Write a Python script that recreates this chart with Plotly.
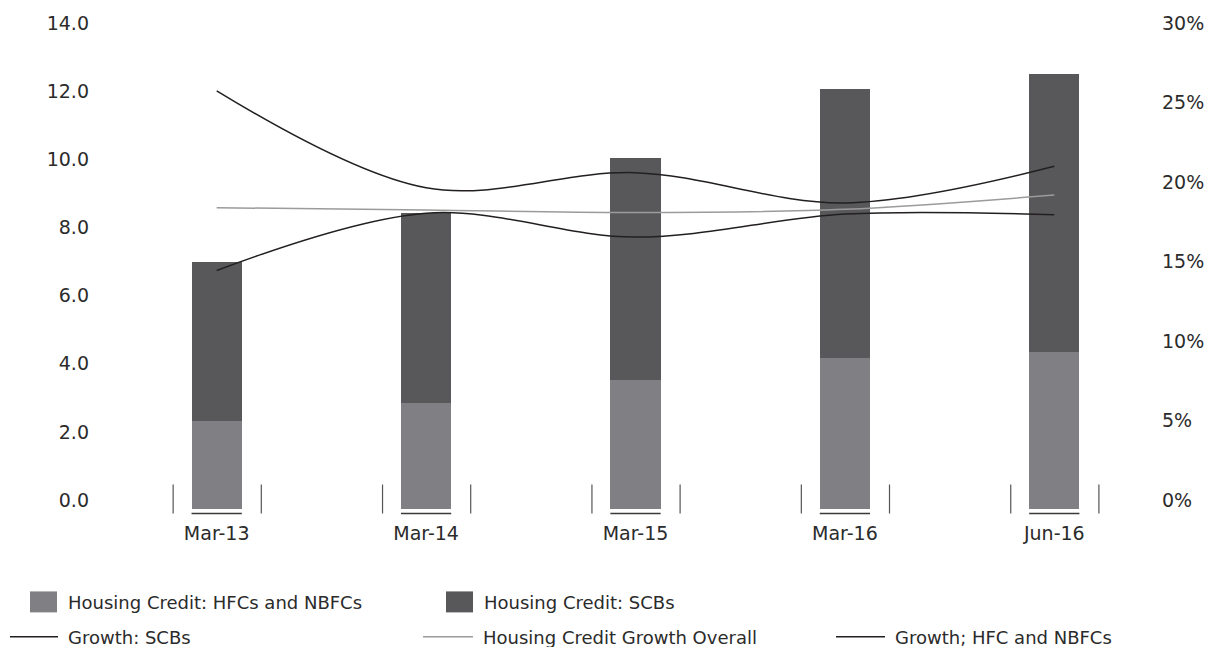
import plotly.graph_objects as go

# Housing credit outstanding (stacked bars, left axis) and growth rates (lines, right axis)
periods = ["Mar-13", "Mar-14", "Mar-15", "Mar-16", "Jun-16"]
credit_hfc_nbfc = [2.57, 3.12, 3.80, 4.44, 4.62]
credit_scb = [4.67, 5.57, 6.51, 7.89, 8.15]
growth_scb = [15.0, 18.6, 17.1, 18.55, 18.5]
growth_overall = [18.95, 18.8, 18.65, 18.85, 19.75]
growth_hfc_nbfc = [26.3, 20.2, 21.15, 19.25, 21.55]

left_ticks = [0, 2, 4, 6, 8, 10, 12, 14]
right_ticks = [0, 5, 10, 15, 20, 25, 30]
right_labels = [f"{v}%" for v in right_ticks]

W, H = 1205, 647
ML, MR, MT, MB = 112, 46, 32, 137.5
PW, PH = W - ML - MR, H - MT - MB

FONT = "DejaVu Sans"
TXT = "#2b2b2b"
C_HFC = "#808084"
C_SCB = "#58585a"
C_LINE = "#231f20"
C_OVERALL = "#9b9b9b"


def px(xp):
    return (xp - ML) / PW


def py(yp):
    return (H - MB - yp) / PH


fig = go.Figure()
fig.add_bar(x=periods, y=credit_hfc_nbfc, name="Housing Credit: HFCs and NBFCs",
            marker=dict(color=C_HFC, line_width=0), width=0.24)
fig.add_bar(x=periods, y=credit_scb, name="Housing Credit: SCBs",
            marker=dict(color=C_SCB, line_width=0), width=0.24)
fig.add_scatter(x=periods, y=growth_scb, name="Growth: SCBs", yaxis="y2", mode="lines",
                line=dict(color=C_LINE, width=1.5, shape="spline", smoothing=1))
fig.add_scatter(x=periods, y=growth_overall, name="Housing Credit Growth Overall", yaxis="y2",
                mode="lines", line=dict(color=C_OVERALL, width=1.5, shape="spline", smoothing=1))
fig.add_scatter(x=periods, y=growth_hfc_nbfc, name="Growth; HFC and NBFCs", yaxis="y2",
                mode="lines", line=dict(color=C_LINE, width=1.5, shape="spline", smoothing=1))

shapes = []
# short baseline under each bar and the bracket ticks either side of it
for i in range(len(periods)):
    shapes.append(dict(type="line", xref="x", yref="paper", x0=i - 0.12, x1=i + 0.12,
                       y0=py(514), y1=py(514), line=dict(color="#3a3a3a", width=1.6)))
    for off in (-0.208, 0.213):
        shapes.append(dict(type="line", xref="x", yref="paper", x0=i + off, x1=i + off,
                           y0=py(485), y1=py(514), line=dict(color="#555555", width=1.2)))

# legend keys
annotations = []
bar_keys = [(30, 57, C_HFC, fig.data[0].name), (446, 473, C_SCB, fig.data[1].name)]
for x0, x1, col, label in bar_keys:
    shapes.append(dict(type="rect", xref="paper", yref="paper", x0=px(x0), x1=px(x1),
                       y0=py(613), y1=py(592), fillcolor=col, line_width=0))
    annotations.append(dict(xref="paper", yref="paper", x=px(x1 + 9), y=py(603),
                            xanchor="left", yanchor="middle", text=label, showarrow=False))
line_keys = [(10, 58, C_LINE, fig.data[2].name), (423, 473, C_OVERALL, fig.data[3].name),
             (836, 885, C_LINE, fig.data[4].name)]
for x0, x1, col, label in line_keys:
    shapes.append(dict(type="line", xref="paper", yref="paper", x0=px(x0), x1=px(x1),
                       y0=py(637.5), y1=py(637.5), line=dict(color=col, width=1.5)))
    annotations.append(dict(xref="paper", yref="paper", x=px(x1 + 8), y=py(638),
                            xanchor="left", yanchor="middle", text=label, showarrow=False))

fig.update_layout(
    width=W, height=H, autosize=False,
    margin=dict(l=ML, r=MR, t=MT, b=MB, pad=0),
    paper_bgcolor="white", plot_bgcolor="white",
    barmode="stack", showlegend=False,
    font=dict(family=FONT, size=18, color=TXT),
    xaxis=dict(type="category", range=[-0.5, 4.5], showgrid=False, showline=False,
               zeroline=False, ticks="", tickfont=dict(size=19, color=TXT),
               ticklabelstandoff=11, automargin=False),
    yaxis=dict(range=[0, 14], tickvals=left_ticks, tickformat=".1f", showgrid=False,
               showline=False, zeroline=False, ticks="", tickfont=dict(size=19, color=TXT),
               ticklabelstandoff=22, ticklabelshift=-9, automargin=False),
    yaxis2=dict(range=[0, 30], tickvals=right_ticks, ticktext=right_labels, overlaying="y",
                side="right", showgrid=False, showline=False, zeroline=False, ticks="",
                tickfont=dict(size=19, color=TXT), ticklabelstandoff=2, ticklabelshift=-9,
                automargin=False),
    shapes=shapes, annotations=annotations,
)

fig.write_html("out.html")
